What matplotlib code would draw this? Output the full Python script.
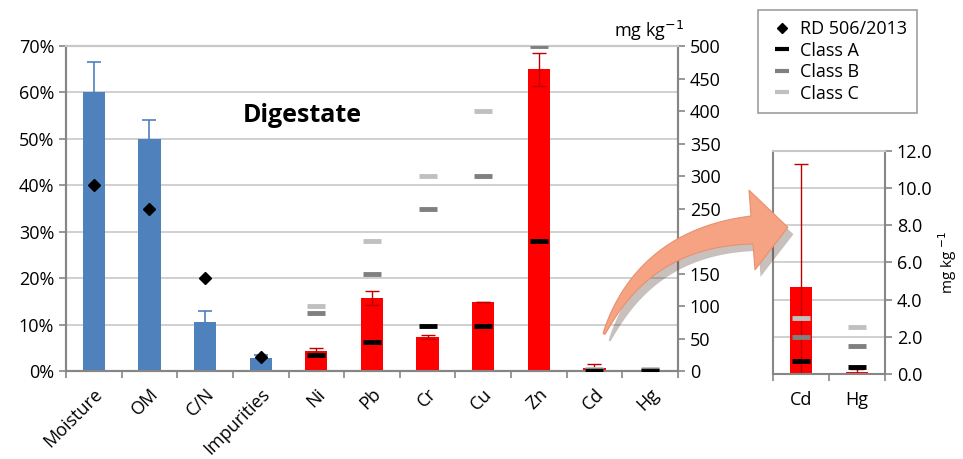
import numpy as np
import matplotlib
matplotlib.use("Agg")
import matplotlib.pyplot as plt
from matplotlib.patches import Polygon
from matplotlib.lines import Line2D
import matplotlib.patheffects as pe

plt.rcParams["font.family"] = ["Open Sans", "DejaVu Sans"]

# --- dados ---
cats = ["Moisture", "OM", "C/N", "Impurities", "Ni", "Pb", "Cr", "Cu", "Zn", "Cd", "Hg"]
pct_vals = [60, 50, 10.5, 2.7]          # %
pct_err = [6.5, 4, 2.5, 0.8]
rd_vals = [40, 35, 20, 3]               # RD 506/2013 (%)
metal_vals = [31, 112, 52, 106, 464, 4.7, 0.1]   # mg/kg
metal_err = [4, 11, 3, 0.5, 25, 6.6, 0.15]
class_a = [25, 45, 70, 70, 200, 0.7, 0.4]
class_b = [90, 150, 250, 300, 500, 2, 1.5]
class_c = [100, 200, 300, 400, 1000, 3, 2.5]

BLUE = "#4f81bd"
RED = "#ff0000"
DRED = "#c00000"
GRID = "#c8c8c8"
SPINE = "#868686"
CA, CB, CC = "black", "#808080", "#c0c0c0"
FS = 13

W, H = 963, 459
fig = plt.figure(figsize=(W / 100, H / 100), dpi=100)
ax = fig.add_axes([0.0685, 0.1917, 0.6355, 0.708])
ax2 = ax.twinx()

x = np.arange(len(cats))
xp = x[:4]
xm = x[4:]
w = 0.4

ax.bar(xp, pct_vals, w, color=BLUE, yerr=pct_err, ecolor=BLUE,
       error_kw=dict(capsize=5, elinewidth=1.2, capthick=1.2), zorder=2)
ax.plot(xp, rd_vals, "D", color="black", ms=6, zorder=5)
ax.set_ylim(0, 70)
ax.set_yticks(np.arange(0, 71, 10))
ax.set_yticklabels([f"{v}%" for v in range(0, 71, 10)])
ax.yaxis.grid(True, color=GRID, lw=1.2)
ax.set_axisbelow(True)
ax.set_xlim(-0.5, len(cats) - 0.5)
ax.set_xticks(np.arange(-0.5, len(cats), 1))
ax.set_xticklabels([])
ax.set_xticks(x, minor=True)
ax.set_xticklabels(cats, minor=True, rotation=45, ha="right", rotation_mode="anchor",
                   fontsize=FS)
ax.tick_params(axis="x", which="minor", length=0, pad=10)
ax.tick_params(axis="x", which="major", length=5, color=SPINE, width=1.2)
ax.tick_params(axis="y", length=5, color=SPINE, width=1.2, labelsize=FS)

ax2.bar(xm, metal_vals, w, color=RED, yerr=metal_err, ecolor=DRED,
        error_kw=dict(capsize=5, elinewidth=1.0, capthick=1.0), zorder=2)
mk = dict(marker="_", ms=13, mew=3.5, ls="none", zorder=6)
ax2.plot(xm, class_c, color=CC, **mk)
ax2.plot(xm, class_b, color=CB, **mk)
ax2.plot(xm, class_a, color=CA, **mk)
ax2.set_ylim(0, 500)
ax2.set_yticks(np.arange(0, 501, 50))
ax2.tick_params(axis="y", length=5, color=SPINE, width=1.2, labelsize=FS)
ax2.text(1.01, 1.01, "mg kg$^{-1}$", transform=ax2.transAxes,
         ha="right", va="bottom", fontsize=FS)

for a in (ax, ax2):
    for s in a.spines.values():
        s.set_color(SPINE)
        s.set_linewidth(1.5)
    a.spines["top"].set_color(GRID)

ax.text(3.74, 55.0, "Digestate", fontsize=18, fontweight="bold", ha="center", va="center")

# --- inset Cd / Hg ---
ins = fig.add_axes([0.8024, 0.1852, 0.1166, 0.4865])
xi = np.arange(2)
ins.bar(xi, metal_vals[5:], 0.4, color=RED, yerr=metal_err[5:], ecolor=DRED,
        error_kw=dict(capsize=5, elinewidth=1.0, capthick=1.0), zorder=2)
ins.plot(xi, class_c[5:], color=CC, **mk)
ins.plot(xi, class_b[5:], color=CB, **mk)
ins.plot(xi, class_a[5:], color=CA, **mk)
ins.set_xlim(-0.5, 1.5)
ins.set_ylim(0, 12)
ins.set_yticks(np.arange(0, 12.1, 2))
ins.set_yticklabels([f"{v:.1f}" for v in np.arange(0, 12.1, 2)])
ins.yaxis.tick_right()
ins.yaxis.set_label_position("right")
ins.set_ylabel("mg kg $^{-1}$", fontsize=11, labelpad=3)
ins.yaxis.grid(True, color=GRID, lw=1.2)
ins.set_axisbelow(True)
ins.set_xticks([-0.5, 0.5, 1.5])
ins.set_xticklabels([])
ins.set_xticks(xi, minor=True)
ins.set_xticklabels(["Cd", "Hg"], minor=True, fontsize=FS)
ins.tick_params(axis="x", which="minor", length=0, pad=12)
ins.tick_params(axis="x", which="major", length=5, color=SPINE, width=1.2)
ins.tick_params(axis="y", length=5, color=SPINE, width=1.2, labelsize=FS)
for s in ins.spines.values():
    s.set_color(SPINE)
    s.set_linewidth(1.5)
ins.spines["top"].set_color(GRID)

# --- legend ---
handles = [
    Line2D([], [], marker="D", color="black", ls="none", ms=5),
    Line2D([], [], marker="_", color=CA, ls="none", ms=10, mew=3),
    Line2D([], [], marker="_", color=CB, ls="none", ms=10, mew=3),
    Line2D([], [], marker="_", color=CC, ls="none", ms=10, mew=3),
]
leg = fig.legend(handles, ["RD 506/2013", "Class A", "Class B", "Class C"],
                 loc="upper left", bbox_to_anchor=(758 / W, 1 - 10 / H), fontsize=FS,
                 frameon=True, fancybox=False, edgecolor=SPINE, handlelength=1.6,
                 handletextpad=0.2, borderpad=0.55, labelspacing=0.2,
                 borderaxespad=0)
leg.get_frame().set_linewidth(1.2)

# --- seta curva (afinando na cauda) ---
p0, p1, p2 = np.array([604, 334]), np.array([645, 238]), np.array([752, 230])
t = np.linspace(0, 1, 60)[:, None]
c = (1 - t) ** 2 * p0 + 2 * (1 - t) * t * p1 + t ** 2 * p2
d = 2 * (1 - t) * (p1 - p0) + 2 * t * (p2 - p1)
d = d / np.linalg.norm(d, axis=1)[:, None]
n = np.column_stack([-d[:, 1], d[:, 0]])
half = (1 + 13 * t[:, 0] ** 0.8)[:, None]
upper = c + n * half
lower = c - n * half
tang, nor = d[-1], n[-1]
head = [p2 + nor * 40, p2 + tang * 36, p2 - nor * 40]
pts = np.vstack([upper, head[0:1], head[1:2], head[2:3], lower[::-1]])
pts_fig = np.column_stack([pts[:, 0] / W, 1 - pts[:, 1] / H])
arrow = Polygon(pts_fig, closed=True, transform=fig.transFigure,
                facecolor="#f6a383", edgecolor="#e8906e", lw=0.8,
                path_effects=[pe.SimplePatchShadow(offset=(4, -5), alpha=0.3),
                              pe.Normal()])
fig.patches.append(arrow)

fig.savefig("out.png", dpi=100)
